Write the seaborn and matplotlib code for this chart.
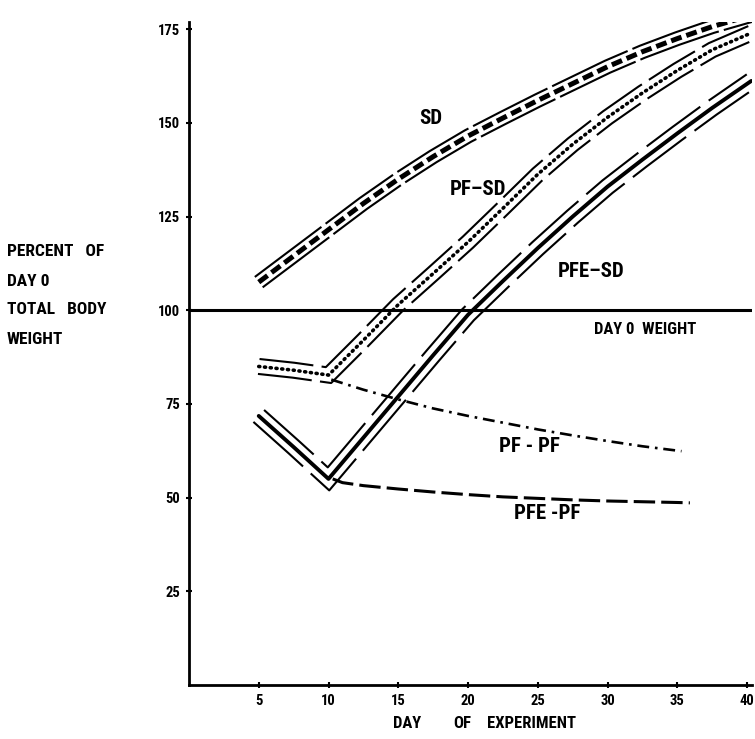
import numpy as np
import matplotlib
matplotlib.use("Agg")
import matplotlib.pyplot as plt
from matplotlib import font_manager
import seaborn as sns

# ---------- données ----------
# jours d'expérience et % du poids total au jour 0
sd_days = [5, 7.5, 10, 12.5, 15, 17.5, 20, 22.5, 25, 27.5, 30, 32.5, 35, 37.5, 40.3]
sd_pct = [107.5, 114.5, 121.5, 128.5, 135, 141, 146.5, 151.3, 156, 160.5, 165, 169, 172.5, 175.7, 178.7]

pfsd_days = [5, 7.5, 10, 12.5, 15, 17.5, 20, 22.5, 25, 27.5, 30, 32.5, 35, 37.5, 40.3]
pfsd_pct = [85, 84, 82.7, 92, 101.5, 109.8, 118.2, 127.2, 136.3, 144.3, 151.5, 158, 164, 169.5, 174]

pfesd_days = [5, 7.5, 10, 12.5, 15, 17.5, 20, 22.5, 25, 27.5, 30, 32.5, 35, 37.5, 40.3]
pfesd_pct = [71.8, 63.5, 55, 66, 77, 88, 98.8, 107.8, 116.6, 125, 133, 140.2, 147.2, 154, 161.2]

pfpf_days = [10.2, 12.5, 15, 17.5, 20, 22.5, 25, 27.5, 30, 32.5, 35.3]
pfpf_pct = [81.5, 78.8, 76.2, 73.8, 71.8, 70, 68.2, 66.6, 65.1, 63.7, 62.4]

pfepf_days = [10.3, 11, 12.5, 15, 17.5, 20, 22.5, 25, 27.5, 30, 32.5, 35, 35.9]
pfepf_pct = [55, 54, 53.2, 52.3, 51.5, 50.8, 50.2, 49.8, 49.4, 49.1, 48.9, 48.7, 48.6]

day0_days = [0, 40.35]
day0_pct = [100, 100]

x_ticks = [5, 10, 15, 20, 25, 30, 35, 40]
y_ticks = [25, 50, 75, 100, 125, 150, 175]

# ---------- style ----------
sns.set_style("white")
# police étroite si disponible
installed = {f.name for f in font_manager.fontManager.ttflist}
NARROW = [f for f in ["Liberation Sans Narrow", "DejaVu Sans Condensed", "Roboto Condensed"]
          if f in installed] + ["DejaVu Sans"]
plt.rcParams["font.family"] = NARROW
plt.rcParams["font.stretch"] = "condensed"
plt.rcParams["font.weight"] = "bold"
plt.rcParams["text.color"] = "black"
plt.rcParams["xtick.color"] = "black"
plt.rcParams["ytick.color"] = "black"

fig = plt.figure(figsize=(7.55, 7.39), dpi=100)
ax = fig.add_axes([0.2503, 0.0731, 0.7457, 0.8975])
ax.set_xlim(0, 40.35)
ax.set_ylim(0, 177)


def offset_curve(x, y, d_px):
    # décale une courbe perpendiculairement (en pixels) pour les bandes doubles
    pts = ax.transData.transform(np.column_stack([x, y]))
    seg = np.diff(pts, axis=0)
    seg /= np.linalg.norm(seg, axis=1)[:, None]
    nrm = np.column_stack([-seg[:, 1], seg[:, 0]])
    out = np.empty_like(pts)
    out[0] = pts[0] + nrm[0] * d_px
    out[-1] = pts[-1] + nrm[-1] * d_px
    for j in range(1, len(pts) - 1):
        m = nrm[j - 1] + nrm[j]
        m /= np.linalg.norm(m)
        out[j] = pts[j] + m * d_px / np.dot(m, nrm[j])
    back = ax.transData.inverted().transform(out)
    return back[:, 0], back[:, 1]


def band(x, y, half, center_kws, outer_kws):
    for s in (1, -1):
        ox, oy = offset_curve(x, y, s * half)
        sns.lineplot(x=ox, y=oy, ax=ax, sort=False, estimator=None,
                     color="black", **outer_kws)
    sns.lineplot(x=x, y=y, ax=ax, sort=False, estimator=None,
                 color="black", **center_kws)


# ligne du poids au jour 0
sns.lineplot(x=day0_days, y=day0_pct, ax=ax, color="black", linewidth=2.2)

# SD
band(sd_days, sd_pct, 6.5,
     dict(linewidth=3.6, linestyle=(0, (2.2, 1.0))),
     dict(linewidth=1.5, linestyle=(0, (40, 2.5))))
# PF-SD
band(pfsd_days, pfsd_pct, 7.5,
     dict(linewidth=2.6, linestyle=(0, (0.3, 1.3)), dash_capstyle="round"),
     dict(linewidth=1.5, linestyle=(0, (26, 4))))
# PFE-SD
band(pfesd_days, pfesd_pct, 8,
     dict(linewidth=2.8, linestyle="-"),
     dict(linewidth=1.5, linestyle=(0, (32, 5))))

# PF-PF et PFE-PF
sns.lineplot(x=pfpf_days, y=pfpf_pct, ax=ax, sort=False, estimator=None,
             color="black", linewidth=1.9, linestyle=(0, (4.5, 2.2, 1, 2.2)))
sns.lineplot(x=pfepf_days, y=pfepf_pct, ax=ax, sort=False, estimator=None,
             color="black", linewidth=2.2, linestyle=(0, (7, 2)))

# étiquettes des courbes
lab = dict(fontsize=15, fontweight="bold", ha="center", va="center",
           family=NARROW, stretch="condensed")
ax.text(17.3, 151.3, "SD", **lab)
ax.text(20.7, 132.2, "PF\u2013SD", **lab)
ax.text(28.8, 110.4, "PFE\u2013SD", **lab)
ax.text(32.7, 94.9, "DAY 0  WEIGHT", **dict(lab, fontsize=12))
ax.text(24.4, 63.6, "PF - PF", **lab)
ax.text(25.7, 45.7, "PFE -PF", **lab)

# axes
for side in ("top", "right"):
    ax.spines[side].set_visible(False)
for side in ("left", "bottom"):
    ax.spines[side].set_linewidth(2)
    ax.spines[side].set_color("black")
ax.set_xticks(x_ticks)
ax.set_yticks(y_ticks)
ax.set_xticklabels([str(v) for v in x_ticks], fontsize=10.5, fontweight="bold")
ax.set_yticklabels([str(v) for v in y_ticks], fontsize=10.5, fontweight="bold")
ax.tick_params(axis="both", direction="inout", length=5, width=1.5, color="black",
               left=True, bottom=True, pad=4)
ax.set_xlabel("")
ax.set_ylabel("")

# titre des axes
for word, xp in [("DAY", 407), ("OF", 462), ("EXPERIMENT", 532)]:
    fig.text(xp / 755, 1 - 723 / 739, word, ha="center", va="center",
             fontsize=12, fontweight="bold", family=NARROW, stretch="condensed")
for i, t in enumerate(["PERCENT   OF", "DAY 0", "TOTAL   BODY", "WEIGHT"]):
    fig.text(7 / 755, 1 - (252 + i * 29) / 739, t, ha="left", va="center",
             fontsize=12.5, fontweight="bold", family=NARROW, stretch="condensed")

fig.savefig("out.png", dpi=100)
